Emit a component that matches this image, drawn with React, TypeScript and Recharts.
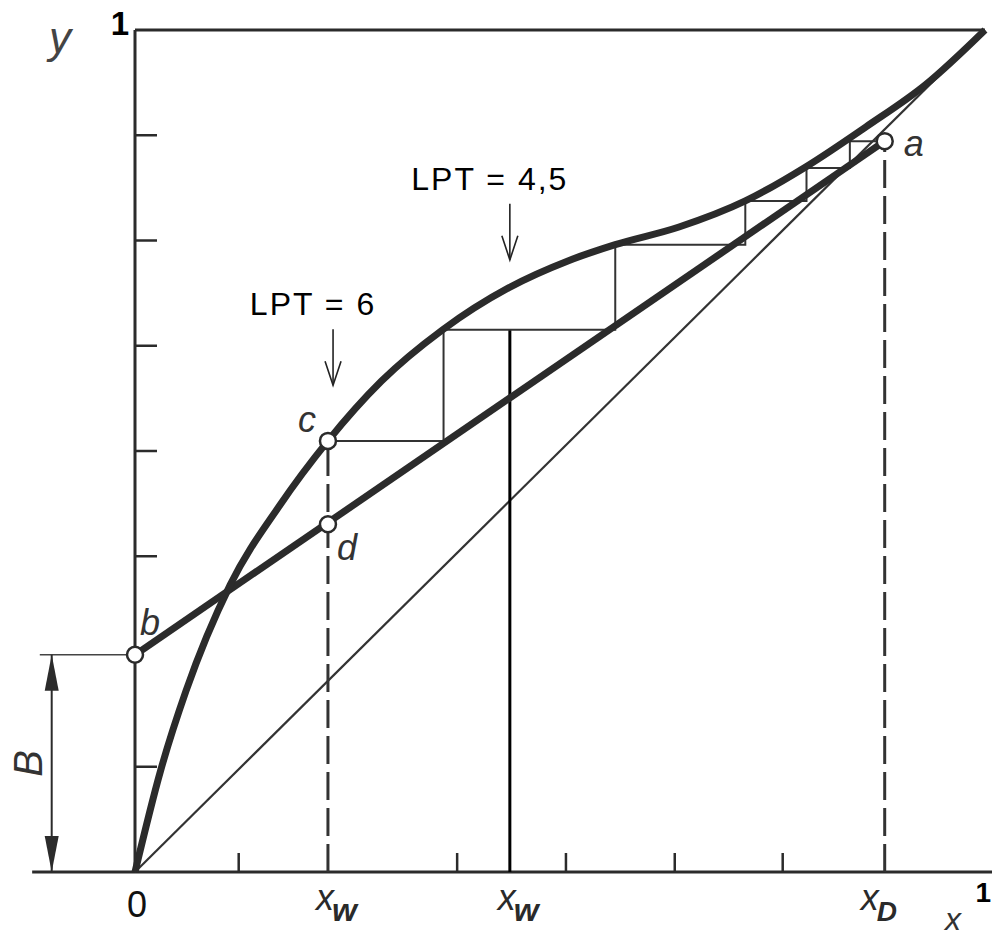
import {
  ComposedChart,
  Line,
  Scatter,
  XAxis,
  YAxis,
  ReferenceLine,
  ReferenceDot,
} from "recharts";

const INK = "#2b2b2b";
const FONT = "'Liberation Sans', Arial, sans-serif";

// equilibrium curve (thick)
const equilibrium = [
  { x: 0, y: 0 },
  { x: 0.03, y: 0.12 },
  { x: 0.06, y: 0.215 },
  { x: 0.112, y: 0.341 },
  { x: 0.17, y: 0.435 },
  { x: 0.227, y: 0.512 },
  { x: 0.29, y: 0.583 },
  { x: 0.362, y: 0.644 },
  { x: 0.44, y: 0.694 },
  { x: 0.51, y: 0.726 },
  { x: 0.565, y: 0.745 },
  { x: 0.64, y: 0.766 },
  { x: 0.718, y: 0.797 },
  { x: 0.79, y: 0.838 },
  { x: 0.86, y: 0.885 },
  { x: 0.93, y: 0.935 },
  { x: 1, y: 1 },
];

// operating line b -> a
const operating = [
  { x: 0, y: 0.258 },
  { x: 0.882, y: 0.868 },
];

const diagonal = [
  { x: 0, y: 0 },
  { x: 1, y: 1 },
];

// staircase from c up to a
const steps = [
  { x: 0.227, y: 0.512 },
  { x: 0.363, y: 0.512 },
  { x: 0.363, y: 0.644 },
  { x: 0.565, y: 0.644 },
  { x: 0.565, y: 0.745 },
  { x: 0.718, y: 0.745 },
  { x: 0.718, y: 0.797 },
  { x: 0.79, y: 0.797 },
  { x: 0.79, y: 0.836 },
  { x: 0.841, y: 0.836 },
  { x: 0.841, y: 0.868 },
  { x: 0.882, y: 0.868 },
];

const xw1Line = [
  { x: 0.227, y: 0 },
  { x: 0.227, y: 0.512 },
];
const xw2Line = [
  { x: 0.441, y: 0 },
  { x: 0.441, y: 0.644 },
];
const xdLine = [
  { x: 0.882, y: 0 },
  { x: 0.882, y: 0.868 },
];

const points = [
  { name: "a", x: 0.882, y: 0.868 },
  { name: "b", x: 0, y: 0.258 },
  { name: "c", x: 0.227, y: 0.512 },
  { name: "d", x: 0.227, y: 0.413 },
];

const xTickMarks = [0.122, 0.379, 0.507, 0.635, 0.762];
const yTickMarks = [0.125, 0.375, 0.5, 0.625, 0.75, 0.875, 1];
const xLabels = [
  { value: 0, text: "0", sub: "" },
  { value: 0.227, text: "x", sub: "w" },
  { value: 0.441, text: "x", sub: "w" },
  { value: 0.882, text: "x", sub: "D" },
  { value: 1, text: "1", sub: "" },
];

const annotations = [
  { text: "LPT = 6", x: 0.233, y: 0.578 },
  { text: "LPT = 4,5", x: 0.441, y: 0.727 },
];

const bDim = { x: -0.098, top: 0.258, bottom: 0 };

const labelPos: Record<string, { dx: number; dy: number; anchor: string }> = {
  a: { dx: 19, dy: 15, anchor: "start" },
  b: { dx: 5, dy: -20, anchor: "start" },
  c: { dx: -12, dy: -9, anchor: "end" },
  d: { dx: 9, dy: 36, anchor: "start" },
};

function XTick(props: any) {
  const { x, y, payload } = props;
  const lab = xLabels.find((l) => l.value === payload.value);
  if (!lab) {
    return <line x1={x} y1={y} x2={x} y2={y - 19} stroke={INK} strokeWidth={2.5} />;
  }
  if (lab.value === 1) {
    return (
      <g>
        <text x={x + 6} y={y + 30} textAnchor="end" fontSize={28} fontWeight="bold" fontFamily={FONT} fill="#000">
          1
        </text>
        <text x={x - 40} y={y + 58} fontSize={32} fontStyle="italic" fontFamily={FONT} fill="#333">
          x
        </text>
      </g>
    );
  }
  if (!lab.sub) {
    return (
      <text x={x + 2} y={y + 45} textAnchor="middle" fontSize={36} fontFamily={FONT} fill="#111">
        {lab.text}
      </text>
    );
  }
  const isD = lab.sub === "D";
  return (
    <text x={x - (isD ? 24 : 12)} y={y + 38} fontFamily={FONT} fill="#2a2a2a">
      <tspan fontStyle="italic" fontSize={36}>
        {lab.text}
      </tspan>
      <tspan fontStyle="italic" fontWeight="bold" fontSize={isD ? 28 : 32} dx={-2} dy={11}>
        {lab.sub}
      </tspan>
    </text>
  );
}

function YTick(props: any) {
  const { x, y, payload } = props;
  if (payload.value === 1) {
    return (
      <g>
        <text x={x - 6} y={y + 5} textAnchor="end" fontSize={33} fontWeight="bold" fontFamily={FONT} fill="#000">
          1
        </text>
        <text x={x - 86} y={y + 23} fontSize={44} fontStyle="italic" fontFamily={FONT} fill="#444">
          y
        </text>
      </g>
    );
  }
  return <line x1={x} y1={y} x2={x + 22} y2={y} stroke={INK} strokeWidth={2.5} />;
}

function PointMark(props: any) {
  const { cx, cy, payload } = props;
  const p = labelPos[payload.name];
  return (
    <g>
      <circle cx={cx} cy={cy} r={8} fill="#fff" stroke={INK} strokeWidth={2.5} />
      <text
        x={cx + p.dx}
        y={cy + p.dy}
        textAnchor={p.anchor}
        fontSize={36}
        fontStyle="italic"
        fontFamily={FONT}
        fill="#333"
      >
        {payload.name}
      </text>
    </g>
  );
}

function makeArrowHead(dir: number) {
  return (p: any) => (
    <polygon
      points={`${p.cx},${p.cy} ${p.cx - 7},${p.cy + dir * 36} ${p.cx + 7},${p.cy + dir * 36}`}
      fill={INK}
    />
  );
}

function BLabel(p: any) {
  const cx = p.cx - 24;
  return (
    <text
      x={cx}
      y={p.cy}
      transform={`rotate(-90 ${cx} ${p.cy})`}
      textAnchor="middle"
      dominantBaseline="central"
      fontSize={40}
      fontStyle="italic"
      fontFamily={FONT}
      fill="#333"
    >
      B
    </text>
  );
}

function makeLpt(text: string) {
  return (p: any) => (
    <g>
      <line x1={p.cx} y1={p.cy - 56} x2={p.cx} y2={p.cy} stroke="#222" strokeWidth={1.6} />
      <polyline
        points={`${p.cx - 8},${p.cy - 24} ${p.cx},${p.cy} ${p.cx + 8},${p.cy - 24}`}
        fill="none"
        stroke="#222"
        strokeWidth={1.6}
      />
      <text
        x={p.cx - 20}
        y={p.cy - 70}
        textAnchor="middle"
        fontSize={32}
        letterSpacing={2}
        fontFamily={FONT}
        fill="#000"
      >
        {text}
      </text>
    </g>
  );
}

export default function App() {
  const xTicks = [...xTickMarks, ...xLabels.map((l) => l.value)].sort((a, b) => a - b);
  return (
    <div style={{ position: "absolute", left: 0, top: 0 }}>
      <ComposedChart
        width={992}
        height={938}
        margin={{ top: 30, right: 7, bottom: 65, left: 134 }}
        style={{ background: "#fff" }}
      >
        <XAxis
          type="number"
          dataKey="x"
          domain={[0, 1]}
          ticks={xTicks}
          interval={0}
          tick={<XTick />}
          tickLine={false}
          axisLine={false}
          tickSize={0}
          tickMargin={0}
          height={1}
        />
        <YAxis
          type="number"
          dataKey="y"
          domain={[0, 1]}
          ticks={yTickMarks}
          interval={0}
          tick={<YTick />}
          tickLine={false}
          axisLine={{ stroke: INK, strokeWidth: 3 }}
          tickSize={0}
          tickMargin={0}
          width={1}
        />
        <ReferenceLine y={1} stroke={INK} strokeWidth={3} />
        <ReferenceLine
          segment={[{ x: -0.121, y: 0 }, { x: 1.01, y: 0 }]}
          ifOverflow="visible"
          stroke={INK}
          strokeWidth={3}
        />
        <ReferenceLine
          segment={[{ x: -0.112, y: bDim.top }, { x: 0, y: bDim.top }]}
          ifOverflow="visible"
          stroke="#444"
          strokeWidth={1.5}
        />
        <ReferenceLine
          segment={[{ x: bDim.x, y: bDim.bottom }, { x: bDim.x, y: bDim.top }]}
          ifOverflow="visible"
          stroke={INK}
          strokeWidth={2}
        />
        <ReferenceDot x={bDim.x} y={bDim.top} ifOverflow="visible" shape={makeArrowHead(1)} />
        <ReferenceDot x={bDim.x} y={bDim.bottom} ifOverflow="visible" shape={makeArrowHead(-1)} />
        <ReferenceDot x={bDim.x} y={(bDim.top + bDim.bottom) / 2} ifOverflow="visible" shape={BLabel} />

        <Line data={diagonal} dataKey="y" type="linear" stroke="#333" strokeWidth={2.2} dot={false} activeDot={false} isAnimationActive={false} />
        <Line data={xw1Line} dataKey="y" type="linear" stroke="#333" strokeWidth={3} strokeDasharray="28 8" dot={false} activeDot={false} isAnimationActive={false} />
        <Line data={xdLine} dataKey="y" type="linear" stroke="#333" strokeWidth={3} strokeDasharray="28 8" dot={false} activeDot={false} isAnimationActive={false} />
        <Line data={xw2Line} dataKey="y" type="linear" stroke="#000" strokeWidth={3} dot={false} activeDot={false} isAnimationActive={false} />
        <Line data={steps} dataKey="y" type="linear" stroke="#333" strokeWidth={2} dot={false} activeDot={false} isAnimationActive={false} />
        <Line data={operating} dataKey="y" type="linear" stroke={INK} strokeWidth={7} dot={false} activeDot={false} isAnimationActive={false} />
        <Line data={equilibrium} dataKey="y" type="monotone" stroke={INK} strokeWidth={7} dot={false} activeDot={false} isAnimationActive={false} />
        <Scatter data={points} dataKey="y" shape={PointMark} isAnimationActive={false} />

        {annotations.map((a) => (
          <ReferenceDot key={a.text} x={a.x} y={a.y} ifOverflow="visible" shape={makeLpt(a.text)} />
        ))}
      </ComposedChart>
    </div>
  );
}
